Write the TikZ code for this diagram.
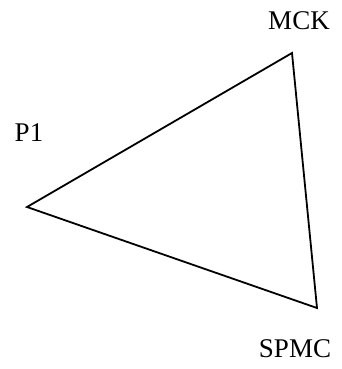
\documentclass[tikz,border=0pt]{standalone}
\usepackage{fontspec}
\setmainfont{Liberation Serif}
\begin{document}
\begin{tikzpicture}[x=1pt,y=-1pt,
  lbl/.style={anchor=base,inner sep=0pt,font=\fontsize{27}{30}\selectfont},
  edge/.style={line width=1.8pt,line join=miter}]
\useasboundingbox (0,0) rectangle (341,369);
\coordinate (p) at (27,207);
\coordinate (m) at (292,53);
\coordinate (s) at (317,308);
\draw[edge] (p) -- (m) -- (s) -- cycle;
\node[lbl] (lm) at (299,30) {MCK};
\node[lbl] (lp) at (29,141) {P1};
\node[lbl] (ls) at (295,357) {SPMC};
\end{tikzpicture}
\end{document}
